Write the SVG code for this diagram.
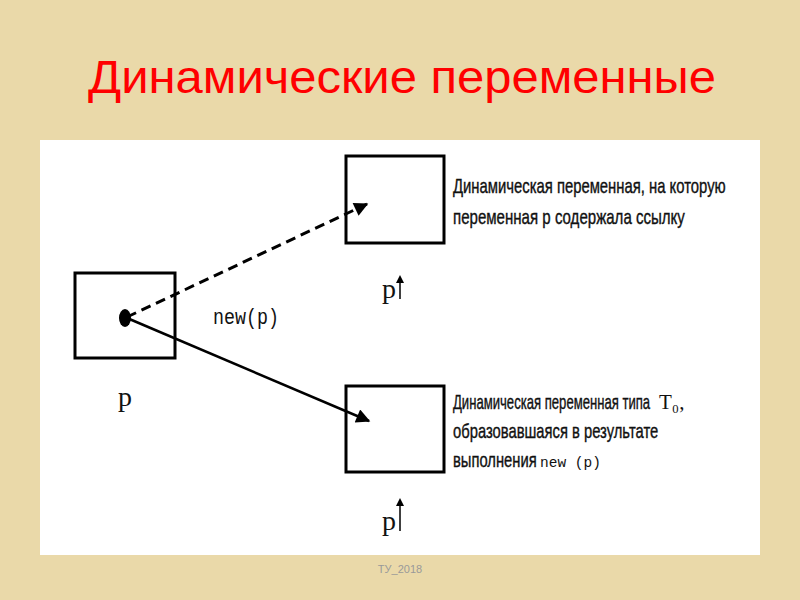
<svg xmlns="http://www.w3.org/2000/svg" width="800" height="600" viewBox="0 0 800 600">
<style>
.box{fill:#fff;stroke:#000;stroke-width:3}
.lbl{font-family:"Liberation Sans",Arial,sans-serif;font-size:21px;fill:#111;stroke:#111;stroke-width:0.4}
.mono{font-family:"Liberation Mono","Courier New",monospace;fill:#111}
.ser{font-family:"Liberation Serif","Times New Roman",serif;fill:#111}
</style>
<defs>
<marker id="ah2" viewBox="0 0 10 10" refX="9" refY="5" markerWidth="18" markerHeight="14" orient="auto" markerUnits="userSpaceOnUse">
<path d="M0,0 L10,5 L0,10 z" fill="#000"/>
</marker>
</defs>
<rect x="0" y="0" width="800" height="600" fill="#ead9a9"/>
<text x="402" y="93" text-anchor="middle" font-family="Liberation Sans,Arial,sans-serif" font-size="46" fill="#f00" textLength="628" lengthAdjust="spacingAndGlyphs">Динамические переменные</text>
<rect x="40" y="140" width="720" height="415" fill="#fff"/>
<g id="node-p">
<rect class="box" x="75" y="273" width="100" height="85"/>
<ellipse cx="125" cy="318" rx="6" ry="9" fill="#000"/>
<text class="ser" x="125" y="406" font-size="28" text-anchor="middle">p</text>
</g>
<g id="node-top">
<rect class="box" x="346" y="156" width="98" height="87"/>
<text class="ser" x="382" y="298" font-size="28">p</text>
<line x1="400" y1="299" x2="400" y2="279" stroke="#000" stroke-width="1.5"/>
<path d="M396,283 L400,275 L404,283 z" fill="#000"/>
<g transform="translate(453,0) scale(0.68,1)">
<text class="lbl" x="0" y="193" textLength="401" lengthAdjust="spacingAndGlyphs">Динамическая переменная, на которую</text>
<text class="lbl" x="0" y="224" textLength="341" lengthAdjust="spacingAndGlyphs">переменная p содержала ссылку</text>
</g>
</g>
<g id="node-bottom">
<rect class="box" x="346" y="386" width="98" height="86"/>
<text class="ser" x="382" y="530" font-size="28">p</text>
<line x1="400" y1="531" x2="400" y2="502" stroke="#000" stroke-width="1.5"/>
<path d="M396,506 L400,498 L404,506 z" fill="#000"/>
<g transform="translate(453,0) scale(0.62,1)">
<text class="lbl" x="0" y="409" textLength="318" lengthAdjust="spacingAndGlyphs">Динамическая переменная типа</text>
<text class="lbl" x="0" y="438" textLength="331" lengthAdjust="spacingAndGlyphs">образовавшаяся в результате</text>
<text class="lbl" x="0" y="467" textLength="135" lengthAdjust="spacingAndGlyphs">выполнения</text>
</g>
<text class="ser" x="659" y="409" font-size="21">T₀,</text>
<text class="mono" x="540" y="467" font-size="14.5">new (p)</text>
</g>
<g id="connectors">
<line x1="127" y1="317" x2="367" y2="204" stroke="#000" stroke-width="3" stroke-dasharray="10,6" marker-end="url(#ah2)"/>
<line x1="127" y1="318" x2="369" y2="421" stroke="#000" stroke-width="2.5" marker-end="url(#ah2)"/>
<text class="mono" x="213" y="324" font-size="22" textLength="66" lengthAdjust="spacingAndGlyphs">new(p)</text>
</g>
<text x="400" y="573" text-anchor="middle" font-family="Liberation Sans,Arial,sans-serif" font-size="11" fill="#999">ТУ_2018</text>
</svg>
